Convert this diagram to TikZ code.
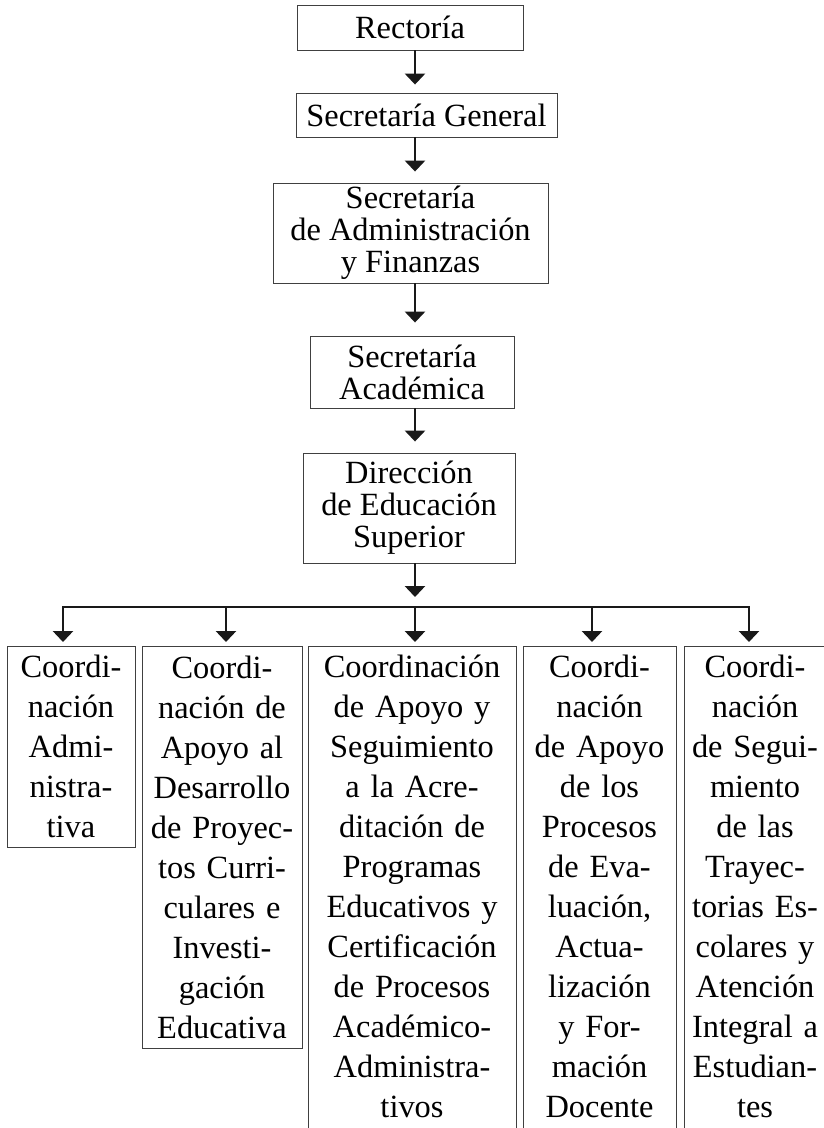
\documentclass[tikz,border=0pt]{standalone}
\usepackage{fontspec}
\setmainfont{Liberation Serif}
\usetikzlibrary{arrows.meta}
\tikzset{
  topbox/.style={draw=black!75, line width=0.9bp, align=center, inner sep=0pt,
    font=\fontsize{32.4bp}{32bp}\selectfont},
  childbox/.style={draw=black!75, line width=0.9bp, align=center, anchor=north,
    inner xsep=0pt, inner ysep=9bp, font=\fontsize{32.4bp}{40bp}\selectfont},
  conn/.style={line width=2.9bp, draw=black!90, -{Triangle[width=20bp,length=11bp]}},
  hbar/.style={line width=2.9bp, draw=black!90, line cap=rect},
}
\begin{document}
\begin{tikzpicture}[x=1bp,y=-1bp]
\useasboundingbox (0,0) rectangle (824,1128);
\clip (0,0) rectangle (824,1128);
% top chain
\node[topbox, minimum width=226bp, minimum height=45bp] (rec) at (410,27.5) {Rectoría};
\node[topbox, minimum width=261bp, minimum height=44bp] (sg) at (426.5,115) {Secretaría General};
\node[topbox, minimum width=275bp, minimum height=100bp] (sa) at (410.5,233) {Secretaría\\de Administración\\y Finanzas};
\node[topbox, minimum width=204bp, minimum height=72bp] (ac) at (412,372) {Secretaría\\Académica};
\node[topbox, minimum width=212bp, minimum height=110bp] (de) at (409,508) {Dirección\\de Educación\\Superior};
\coordinate (sp) at (415,0);
\draw[conn, shorten >=8bp] (rec.south -| sp) -- (sg.north -| sp);
\draw[conn, shorten >=11bp] (sg.south -| sp) -- (sa.north -| sp);
\draw[conn, shorten >=13bp] (sa.south -| sp) -- (ac.north -| sp);
\draw[conn, shorten >=11bp] (ac.south -| sp) -- (de.north -| sp);
% bar
\coordinate (h1) at (63,607);
\coordinate (h2) at (226,607);
\coordinate (h3) at (415,607);
\coordinate (h4) at (592,607);
\coordinate (h5) at (749,607);
\draw[conn, shorten >=10bp] (de.south -| sp) -- (h3);
\draw[hbar] (h1) -- (h5);
% children
\node[childbox, text width=128bp, minimum height=196bp] (b1) at (71,646)
  {Coordi-\\nación\\Admi-\\nistra-\\tiva};
\node[childbox, text width=160bp, minimum height=402bp] (b2) at (222,646)
  {Coordi-\\nación de\\Apoyo al\\Desarrollo\\de Proyec-\\tos Curri-\\culares e\\Investi-\\gación\\Educativa};
\node[childbox, text width=208bp, text depth=480bp] (b3) at (412,646)
  {Coordinación\\de Apoyo y\\Seguimiento\\a la Acre-\\ditación de\\Programas\\Educativos y\\Certificación\\de Procesos\\Académico-\\Administra-\\tivos};
\node[childbox, text width=153bp, text depth=480bp] (b4) at (599.5,646)
  {Coordi-\\nación\\de Apoyo\\de los\\Procesos\\de Eva-\\luación,\\Actua-\\lización\\y For-\\mación\\Docente};
\node[childbox, text width=142bp, text depth=480bp] (b5) at (755,646)
  {Coordi-\\nación\\de Segui-\\miento\\de las\\Trayec-\\torias Es-\\colares y\\Atención\\Integral a\\Estudian-\\tes};
\draw[conn, shorten >=4bp] (h1) -- (h1 |- b1.north);
\draw[conn, shorten >=4bp] (h2) -- (h2 |- b2.north);
\draw[conn, shorten >=4bp] (h3) -- (h3 |- b3.north);
\draw[conn, shorten >=4bp] (h4) -- (h4 |- b4.north);
\draw[conn, shorten >=4bp] (h5) -- (h5 |- b5.north);
\end{tikzpicture}
\end{document}
